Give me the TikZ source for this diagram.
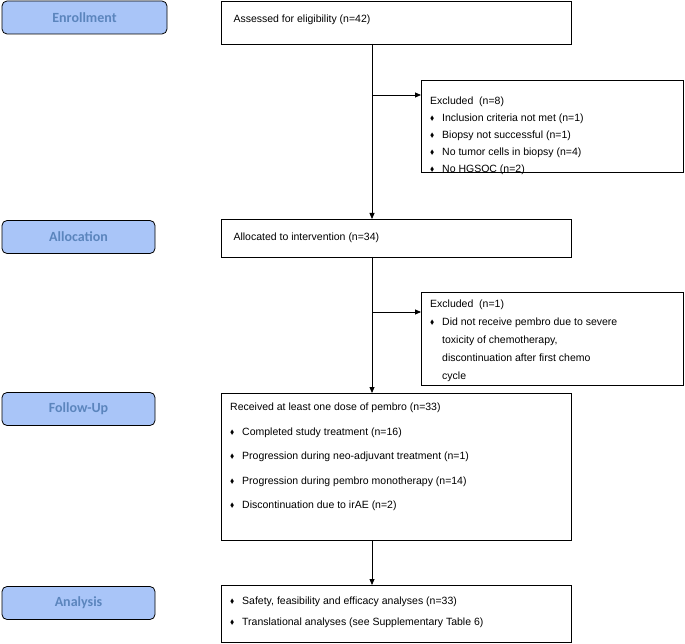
\documentclass[tikz,border=0pt]{standalone}
\usepackage{amssymb}
\usepackage{fontspec}
\setmainfont{Liberation Sans}
\newfontfamily\labfont{Carlito}
\usetikzlibrary{arrows.meta}
\definecolor{labfill}{HTML}{A9C5F8}
\definecolor{labtext}{HTML}{5B85BD}
\begin{document}
\begin{tikzpicture}[x=1pt,y=-1pt,
  lab/.style={draw=black,fill=labfill,rounded corners=5pt,line width=0.8pt,font=\labfont\bfseries\fontsize{14}{16}\selectfont,text=labtext},
  txt/.style={anchor=north west,align=left,inner sep=0pt},
  frame/.style={line width=0.8pt},
  arr/.style={-{Triangle[length=6pt,width=5pt]},line width=0.8pt}]
\useasboundingbox (0,0) rectangle (685,644);
\newcommand{\bl}{\makebox[12pt][l]{\raisebox{1pt}{\scalebox{0.6}{$\blacklozenge$}}}}
% labels
\node[lab,minimum width=165pt,minimum height=33pt] (l1) at (84.5,17.5) {Enrollment};
\node[lab,minimum width=153pt,minimum height=33pt] (l2) at (78.5,237) {Allocation};
\node[lab,minimum width=153pt,minimum height=33pt] (l3) at (78.5,409) {Follow-Up};
\node[lab,minimum width=153pt,minimum height=33pt] (l4) at (78.5,603) {Analysis};
% boxes
\draw[frame] (221,1) rectangle (571,44);
\node[anchor=west,font=\fontsize{10.5}{12}\selectfont] (b1) at (230,20) {Assessed for eligibility (n=42)};
\coordinate (b1s) at (372,44);
\draw[frame] (421,80) rectangle (683,172);
\node[txt,font=\fontsize{10.5}{17}\selectfont] (e1) at (430,97)
 {Excluded\ \ (n=8)\\ \bl Inclusion criteria not met (n=1)\\ \bl Biopsy not successful (n=1)\\ \bl No tumor cells in biopsy (n=4)\\ \bl No HGSOC (n=2)};
\coordinate (e1w) at (421,95);
\coordinate (j1) at (372,95);
\draw[frame] (221,219) rectangle (571,257);
\node[anchor=west,font=\fontsize{10.5}{12}\selectfont] (b2) at (230,238) {Allocated to intervention (n=34)};
\coordinate (b2n) at (372,219);
\coordinate (b2s) at (372,257);
\draw[frame] (421,292) rectangle (683,385);
\node[txt,font=\fontsize{10.5}{18}\selectfont] (e2) at (430,300)
 {Excluded\ \ (n=1)\\ \bl Did not receive pembro due to severe\\ \hspace*{12pt}toxicity of chemotherapy,\\ \hspace*{12pt}discontinuation after first chemo\\ \hspace*{12pt}cycle};
\coordinate (e2w) at (421,312);
\coordinate (j2) at (372,312);
\draw[frame] (221,393) rectangle (571,540);
\node[txt,font=\fontsize{10.5}{24.5}\selectfont] (b3) at (230,403)
 {Received at least one dose of pembro (n=33)\\ \bl Completed study treatment (n=16)\\ \bl Progression during neo-adjuvant treatment (n=1)\\ \bl Progression during pembro monotherapy (n=14)\\ \bl Discontinuation due to irAE (n=2)};
\coordinate (b3n) at (372,393);
\coordinate (b3s) at (372,540);
\draw[frame] (221,585) rectangle (571,642);
\node[txt,font=\fontsize{10.5}{21}\selectfont] (b4) at (230,597)
 {\bl Safety, feasibility and efficacy analyses (n=33)\\ \bl Translational analyses (see Supplementary Table 6)};
\coordinate (b4n) at (372,585);
% connectors
\draw[arr] (b1s) -- (b2n);
\draw[arr] (j1) -- (e1w);
\draw[arr] (b2s) -- (b3n);
\draw[arr] (j2) -- (e2w);
\draw[arr] (b3s) -- (b4n);
\end{tikzpicture}
\end{document}
